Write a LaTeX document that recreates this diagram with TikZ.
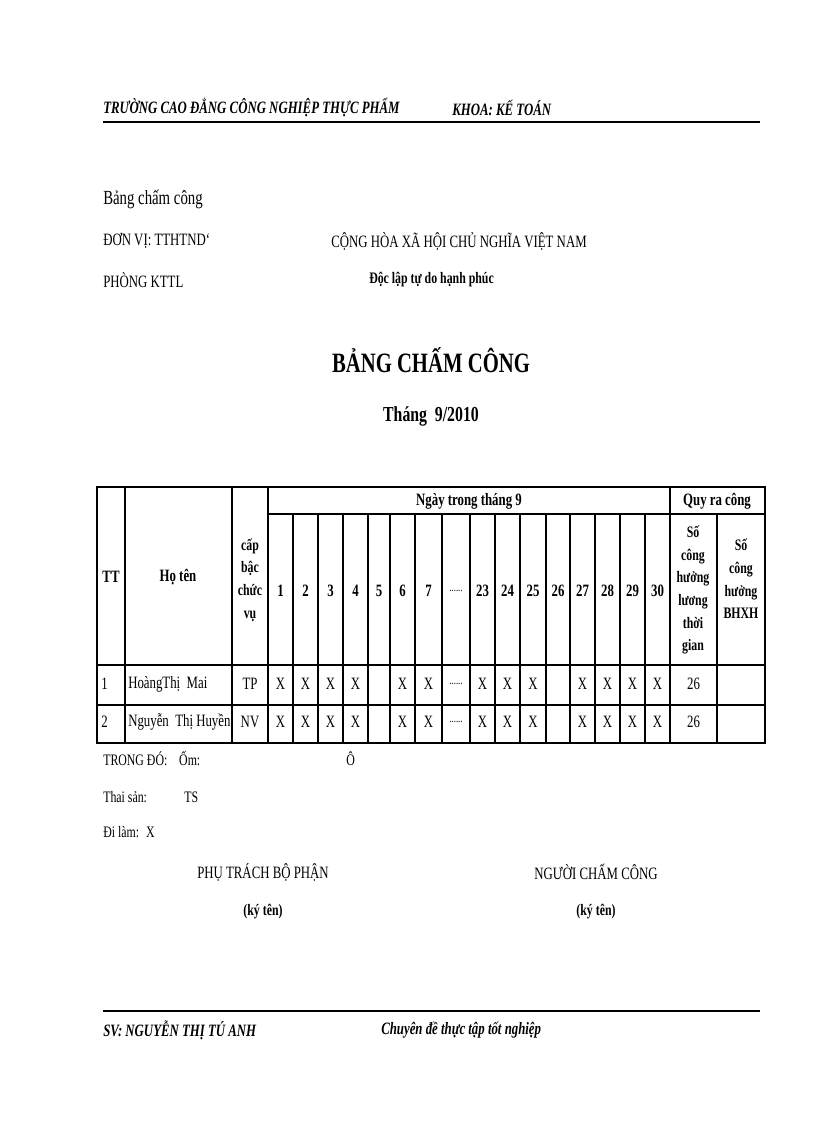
\documentclass[tikz,border=0pt]{standalone}
\usepackage{fontspec}
\setmainfont{Liberation Serif}[FakeStretch=0.74]
\begin{document}
\begin{tikzpicture}[x=0.75pt,y=-0.75pt,
  t/.style={inner sep=0pt,anchor=west,font=\fontsize{13}{15}\selectfont},
  c/.style={inner sep=0pt,font=\fontsize{13}{15}\selectfont},
  ln/.style={line width=0.8pt}]
\useasboundingbox (0,0) rectangle (816,1123);
% header
\node[t,font=\fontsize{13}{15}\selectfont\bfseries\itshape] (h1) at (103,108) {TRƯỜNG CAO ĐẲNG CÔNG NGHIỆP THỰC PHẨM};
\node[t,font=\fontsize{13}{15}\selectfont\bfseries\itshape] (h2) at (452,108) {KHOA: KẾ TOÁN};
\draw[line width=1.6pt] (103,122) -- (760,122);
\node[t,font=\fontsize{15}{17}\selectfont] (a1) at (103,199) {Bảng chấm công};
\node[t] (a2) at (103,241) {ĐƠN VỊ: TTHTND`};
\node[t] (a3) at (331,241) {CỘNG HÒA XÃ HỘI CHỦ NGHĨA VIỆT NAM};
\node[t] (a4) at (103,280) {PHÒNG KTTL};
\node[t,font=\fontsize{12}{14}\selectfont\bfseries] (a5) at (369,280) {Độc lập tự do hạnh phúc};
\node[inner sep=0pt,font=\fontsize{21}{23}\selectfont\bfseries] (tt) at (431,360) {BẢNG CHẤM CÔNG};
\node[inner sep=0pt,font=\fontsize{16}{18}\selectfont\bfseries] (mo) at (431,416) {Tháng~ 9/2010};
% table
\draw[ln] (97,487) rectangle (765,743);
\draw[ln] (268,514) -- (765,514);
\draw[ln] (97,665) -- (765,665);
\draw[ln] (97,705) -- (765,705);
\foreach \x in {125,232,268,670} \draw[ln] (\x,487) -- (\x,743);
\foreach \x in {293,318,343,368,390,415,442,470,495,520,546,570,595,620,645,717} \draw[ln] (\x,514) -- (\x,743);
\node[c,font=\fontsize{13}{15}\selectfont\bfseries] (ng) at (469,501) {Ngày trong tháng 9};
\node[c,font=\fontsize{13}{15}\selectfont\bfseries] (qr) at (717,501) {Quy ra công};
\node[c,font=\fontsize{13}{15}\selectfont\bfseries] (ttc) at (111,577) {TT};
\node[c,font=\fontsize{13}{15}\selectfont\bfseries] (ht) at (178,577) {Họ tên};
\node[c,font=\fontsize{12}{17}\selectfont\bfseries,align=center] (cb) at (250,580) {cấp\\bậc\\chức\\vụ};
\foreach \l/\r/\s [count=\i] in {268/293/1,293/318/2,318/343/3,343/368/4,368/390/5,390/415/6,415/442/7,442/470/{\mdseries\fontsize{9}{9}\selectfont......},470/495/23,495/520/24,520/546/25,546/570/26,570/595/27,595/620/28,620/645/29,645/670/30}
  \node[c,font=\fontsize{13}{15}\selectfont\bfseries] (d\i) at ({(\l+\r)/2},591) {\s};
\node[c,font=\fontsize{12}{17}\selectfont\bfseries,align=center] (q1) at (693,590) {Số\\công\\hưởng\\lương\\thời\\gian};
\node[c,font=\fontsize{12}{17}\selectfont\bfseries,align=center] (q2) at (741,579) {Số\\công\\hưởng\\BHXH};
% rows
\node[t] (r1a) at (101,684) {1};
\node[t] (r1b) at (128,684) {HoàngThị~ Mai};
\node[c] (r1c) at (250,684) {TP};
\node[t] (r2a) at (101,722) {2};
\node[t] (r2b) at (128,722) {Nguyễn~ Thị Huyền};
\node[c] (r2c) at (250,722) {NV};
\foreach \y/\r in {684/a,722/b}{
  \foreach \l/\rr/\s [count=\i] in {268/293/X,293/318/X,318/343/X,343/368/X,390/415/X,415/442/X,442/470/{\fontsize{9}{9}\selectfont......},470/495/X,495/520/X,520/546/X,570/595/X,595/620/X,620/645/X,645/670/X,670/717/26}
    \node[c] (x\r\i) at ({(\l+\rr)/2},\y) {\s};
}
% notes
\node[t,font=\fontsize{12}{14}\selectfont] (n1) at (103,759) {TRONG ĐÓ:~~~ Ốm:};
\node[t,font=\fontsize{12}{14}\selectfont] (n2) at (346,759) {Ô};
\node[t,font=\fontsize{12}{14}\selectfont] (n3) at (103,797) {Thai sản:};
\node[t,font=\fontsize{12}{14}\selectfont] (n4) at (184,797) {TS};
\node[t,font=\fontsize{12}{14}\selectfont] (n5) at (103,832) {Đi làm:~ X};
\node[inner sep=0pt,font=\fontsize{13}{15}\selectfont] (s1) at (263,872) {PHỤ TRÁCH BỘ PHẬN};
\node[inner sep=0pt,font=\fontsize{13}{15}\selectfont] (s2) at (596,872) {NGƯỜI CHẤM CÔNG};
\node[inner sep=0pt,font=\fontsize{12}{14}\selectfont\bfseries] (s3) at (263,912) {(ký tên)};
\node[inner sep=0pt,font=\fontsize{12}{14}\selectfont\bfseries] (s4) at (596,912) {(ký tên)};
% footer
\draw[line width=1.6pt] (103,1011) -- (760,1011);
\node[t,font=\fontsize{13}{15}\selectfont\bfseries\itshape] (f1) at (103,1030) {SV: NGUYỄN THỊ TÚ ANH};
\node[t,font=\fontsize{13}{15}\selectfont\bfseries\itshape] (f2) at (381,1030) {Chuyên đề thực tập tốt nghiệp};
\end{tikzpicture}
\end{document}
